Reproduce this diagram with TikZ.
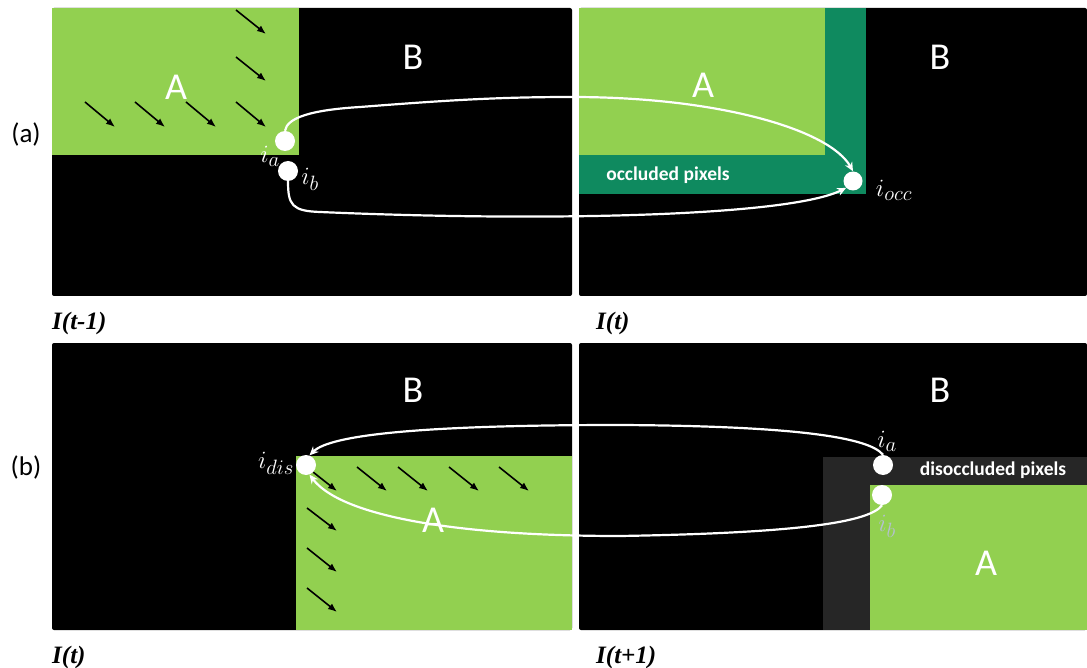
\documentclass[tikz,border=0pt]{standalone}
\usepackage{fontspec}
\newfontfamily\calib{Carlito}
\newfontfamily\timesf{Liberation Serif}
\usetikzlibrary{arrows.meta}
\definecolor{lgreen}{HTML}{92D050}
\definecolor{dgreen}{HTML}{0F8A5F}
\definecolor{dgray}{HTML}{262626}
\definecolor{dimlabel}{HTML}{B4C0D0}
\begin{document}
\begin{tikzpicture}[x=1pt,y=-1pt,
  panel/.style={fill=black, rounded corners=2pt},
  big/.style={text=white, font=\calib\fontsize{38}{40}\selectfont, inner sep=0},
  pt/.style={circle, fill=white, inner sep=0, minimum size=20pt},
  flow/.style={white, line width=2.2pt, -{Stealth[length=9pt,width=8pt]}},
  motion/.style={black, line width=1.6pt, -{Latex[length=9pt,width=7pt]}},
  ilabel/.style={text=white, font=\fontsize{28}{32}\selectfont, inner sep=0},
  lbl/.style={font=\timesf\bfseries\itshape\fontsize{25}{28}\selectfont, anchor=west, inner sep=0},
  tag/.style={font=\calib\fontsize{27}{30}\selectfont, inner sep=0},
  region/.style={text=white, font=\calib\bfseries\fontsize{19.5}{22}\selectfont, inner sep=0}]
\useasboundingbox (0,0) rectangle (1087,668);
\fill[white] (0,0) rectangle (1087,668);

% ---------- row (a) ----------
\fill[panel] (52,8) rectangle (572,296);
\fill[panel] (579,8) rectangle (1087,296);
\fill[lgreen] (52,8) rectangle (299,155);
\fill[dgreen] (579,8) rectangle (866,194);
\fill[lgreen] (579,8) rectangle (825,155);

\draw[motion] (85,102) -- (115,127);
\draw[motion] (135,102) -- (165,127);
\draw[motion] (186,102) -- (216,127);
\draw[motion] (236,102) -- (266,127);
\draw[motion] (236,57) -- (266,81);
\draw[motion] (236,10) -- (266,34);

\node[big] (aA1) at (176,87) {A};
\node[big] (aB1) at (413,57) {B};
\node[big] (aA2) at (703,85) {A};
\node[big] (aB2) at (940,57) {B};
\node[region] (occ) at (668,175) {occluded pixels};

\node[pt] (ia) at (285,141) {};
\node[pt] (ib) at (288,171) {};
\node[pt, minimum size=19pt] (iocc) at (853,181) {};
\node[ilabel] (lia) at (270,156) {$i_a$};
\node[ilabel] (lib) at (310,179) {$i_b$};
\node[ilabel] (liocc) at (894,190) {$i_{occ}$};

\draw[flow] (ia.north) .. controls (287,118) and (310,110) .. (360,107)
   .. controls (450,100) and (500,97) .. (572,97)
   .. controls (720,97) and (830,130) .. (iocc.north);
\draw[flow] (ib.south) .. controls (288,205) and (292,211) .. (320,212)
   .. controls (550,222) and (790,216) .. (iocc.south west);

\node[tag] (ta) at (26,134) {(a)};
\node[lbl] (l1) at (52,323) {I(t-1)};
\node[lbl] (l2) at (596,323) {I(t)};

% ---------- row (b) ----------
\fill[panel] (52,343) rectangle (572,630);
\fill[panel] (579,343) rectangle (1087,630);
\fill[lgreen] (296,456) rectangle (572,630);
\fill[dgray] (823,457) rectangle (1087,630);
\fill[lgreen] (870,485) rectangle (1087,630);

\draw[motion] (313,472) -- (337,491);
\draw[motion] (357,467) -- (387,491);
\draw[motion] (398,467) -- (428,491);
\draw[motion] (449,467) -- (479,491);
\draw[motion] (499,467) -- (529,491);
\draw[motion] (307,508) -- (337,531);
\draw[motion] (307,548) -- (337,572);
\draw[motion] (307,588) -- (337,612);

\node[big] (bB1) at (413,390) {B};
\node[big] (bA1) at (433,520) {A};
\node[big] (bB2) at (940,390) {B};
\node[big] (bA2) at (986,563) {A};
\node[region] (disocc) at (993,470) {disoccluded pixels};

\node[pt] (idis) at (306,465) {};
\node[pt] (bia) at (883,465) {};
\node[pt] (bib) at (882,495) {};
\node[ilabel] (lidis) at (276,463) {$i_{dis}$};
\node[ilabel] (lbia) at (887,441) {$i_a$};
\node[ilabel, text=dimlabel] (lbib) at (887,526) {$i_b$};

\draw[flow] (bia.north) .. controls (870,438) and (800,426) .. (620,425)
   .. controls (420,425) and (330,435) .. (idis.70);
\draw[flow] (bib.south) .. controls (870,522) and (800,533) .. (620,536)
   .. controls (450,536) and (340,515) .. (idis.290);

\node[tag] (tb) at (26,467) {(b)};
\node[lbl] (l3) at (52,657) {I(t)};
\node[lbl] (l4) at (596,657) {I(t+1)};
\end{tikzpicture}
\end{document}
